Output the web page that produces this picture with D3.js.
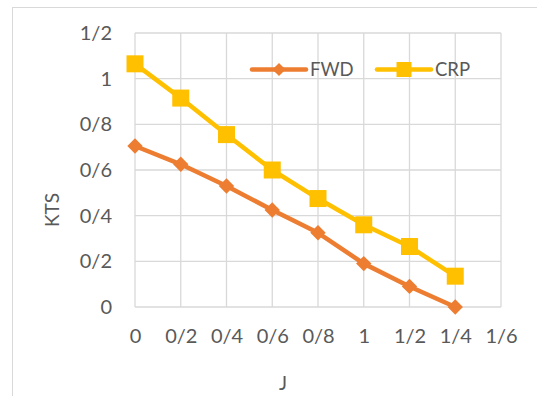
<!DOCTYPE html>
<html>
<head>
<meta charset="utf-8">
<script src="https://cdn.jsdelivr.net/npm/d3@7"></script>
<style>
  html, body { margin: 0; padding: 0; background: #fff; }
  svg { display: block; }
  text { font-family: Lato, "Open Sans", sans-serif; fill: #595959; }
</style>
</head>
<body>
<svg id="chart" width="537" height="396"></svg>
<script>
// Series sampled at J = 0, 0.2, ..., 1.4
const jValues = [0, 0.2, 0.4, 0.6, 0.8, 1.0, 1.2, 1.4];
const fwdValues = [0.705, 0.625, 0.53, 0.425, 0.325, 0.19, 0.09, 0.0];
const crpValues = [1.065, 0.915, 0.755, 0.6, 0.475, 0.36, 0.265, 0.135];

// Axis ticks and their labels (slash used as the decimal separator)
const xTicks = [0, 0.2, 0.4, 0.6, 0.8, 1.0, 1.2, 1.4, 1.6];
const xTickLabels = ["0", "0/2", "0/4", "0/6", "0/8", "1", "1/2", "1/4", "1/6"];
const yTicks = [0, 0.2, 0.4, 0.6, 0.8, 1.0, 1.2];
const yTickLabels = ["0", "0/2", "0/4", "0/6", "0/8", "1", "1/2"];

const seriesNames = ["FWD", "CRP"];
const seriesColors = ["#ED7D31", "#FFC000"];

const svg = d3.select("#chart");

// Chart area frame
svg.append("rect")
  .attr("x", 12.5).attr("y", 7.5)
  .attr("width", 600).attr("height", 500)
  .attr("fill", "#fff")
  .attr("stroke", "#D9D9D9").attr("stroke-width", 1);

const plot = { left: 135, right: 501, top: 33, bottom: 307 };

const x = d3.scaleLinear().domain([0, 1.6]).range([plot.left, plot.right]);
const y = d3.scaleLinear().domain([0, 1.2]).range([plot.bottom, plot.top]);

// Gridlines
const grid = svg.append("g");
grid.selectAll("line.v").data(xTicks).enter().append("line")
  .attr("x1", d => x(d)).attr("x2", d => x(d))
  .attr("y1", plot.top).attr("y2", plot.bottom)
  .attr("stroke", "#D9D9D9").attr("stroke-width", 1.3);
grid.selectAll("line.h").data(yTicks).enter().append("line")
  .attr("x1", plot.left).attr("x2", plot.right)
  .attr("y1", d => y(d)).attr("y2", d => y(d))
  .attr("stroke", "#D9D9D9").attr("stroke-width", 1.3);

// Axes (labels only, as in a spreadsheet chart)
const xAxis = d3.axisBottom(x)
  .tickValues(xTicks)
  .tickFormat((d, i) => xTickLabels[i])
  .tickSize(0).tickPadding(22);
const xg = svg.append("g")
  .attr("transform", `translate(0,${plot.bottom})`)
  .call(xAxis);
xg.select(".domain").remove();
xg.selectAll("text")
  .style("font-family", "Lato, 'Open Sans', sans-serif")
  .style("font-size", "20px").attr("fill", "#595959");

const yAxis = d3.axisLeft(y)
  .tickValues(yTicks)
  .tickFormat((d, i) => yTickLabels[i])
  .tickSize(0).tickPadding(23);
const yg = svg.append("g")
  .attr("transform", `translate(${plot.left},0)`)
  .call(yAxis);
yg.select(".domain").remove();
yg.selectAll("text")
  .style("font-family", "Lato, 'Open Sans', sans-serif")
  .style("font-size", "20px").attr("fill", "#595959");

// Axis titles
svg.append("text")
  .attr("transform", "translate(59,210) rotate(-90)")
  .attr("text-anchor", "middle")
  .style("font-size", "19px")
  .text("KTS");
svg.append("text")
  .attr("x", 283).attr("y", 390)
  .attr("text-anchor", "middle")
  .style("font-size", "19px")
  .text("J");

// Series
const series = [
  { name: seriesNames[0], color: seriesColors[0], values: fwdValues, marker: "diamond" },
  { name: seriesNames[1], color: seriesColors[1], values: crpValues, marker: "square" }
];

const line = d3.line()
  .x(d => x(d.j))
  .y(d => y(d.v));

const diamond = d3.symbol().type(d3.symbolDiamond2).size(150);

series.slice().reverse().forEach(s => {
  const pts = jValues.map((j, i) => ({ j, v: s.values[i] }));
  svg.append("path")
    .datum(pts)
    .attr("d", line)
    .attr("fill", "none")
    .attr("stroke", s.color)
    .attr("stroke-width", 4.5)
    .attr("stroke-linejoin", "round");
  const g = svg.append("g");
  if (s.marker === "square") {
    g.selectAll("rect").data(pts).enter().append("rect")
      .attr("x", d => x(d.j) - 8.5).attr("y", d => y(d.v) - 8.5)
      .attr("width", 17).attr("height", 17)
      .attr("fill", s.color);
  } else {
    g.selectAll("path").data(pts).enter().append("path")
      .attr("transform", d => `translate(${x(d.j)},${y(d.v)})`)
      .attr("d", diamond)
      .attr("fill", s.color);
  }
});

// Legend
const legendItems = [
  { name: seriesNames[0], color: seriesColors[0], x0: 252, marker: "diamond" },
  { name: seriesNames[1], color: seriesColors[1], x0: 377, marker: "square" }
];
const ly = 69.5;
legendItems.forEach(item => {
  const g = svg.append("g");
  g.append("line")
    .attr("x1", item.x0).attr("x2", item.x0 + 54)
    .attr("y1", ly).attr("y2", ly)
    .attr("stroke", item.color).attr("stroke-width", 4.5)
    .attr("stroke-linecap", "round");
  if (item.marker === "square") {
    g.append("rect")
      .attr("x", item.x0 + 27 - 7.5).attr("y", ly - 7.5)
      .attr("width", 15).attr("height", 15)
      .attr("fill", item.color);
  } else {
    g.append("path")
      .attr("transform", `translate(${item.x0 + 27},${ly})`)
      .attr("d", d3.symbol().type(d3.symbolDiamond2).size(110))
      .attr("fill", item.color);
  }
  g.append("text")
    .attr("x", item.x0 + 58).attr("y", ly + 6.5)
    .style("font-size", "18.5px")
    .text(item.name);
});
</script>
</body>
</html>
